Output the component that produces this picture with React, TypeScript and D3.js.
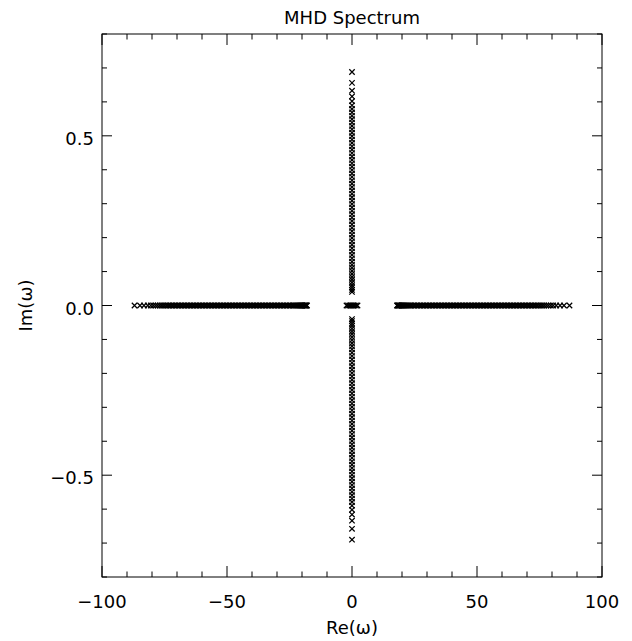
import React from "react";
import * as d3 from "d3";

// ---- Data ----
const title = "MHD Spectrum";
const xLabel = "Re(ω)";
const yLabel = "Im(ω)";

const xMajorTicks = [-100, -50, 0, 50, 100];
const xTickLabels = ["−100", "−50", "0", "50", "100"];
const yMajorTicks = [-0.5, 0.0, 0.5];
const yTickLabels = ["−0.5", "0.0", "0.5"];

// Real branch (positive side), Im = 0
const realPositive = [
  18.0, 18.2, 18.4, 18.6, 18.8, 19.0, 19.3, 19.6, 19.9, 20.2, 20.6, 21.0, 21.4, 21.8,
  22.3, 22.8, 23.3, 23.8, 24.4, 25.0, 25.6, 26.2, 26.8, 27.4, 28.0, 28.6, 29.2, 29.8,
  30.4, 31.0, 31.6, 32.2, 32.8, 33.4, 34.0, 34.6, 35.2, 35.8, 36.4, 37.0, 37.6, 38.2,
  38.8, 39.4, 40.0, 40.6, 41.2, 41.8, 42.4, 43.0, 43.6, 44.2, 44.8, 45.4, 46.0, 46.6,
  47.2, 47.8, 48.4, 49.0, 49.6, 50.2, 50.8, 51.4, 52.0, 52.6, 53.2, 53.8, 54.4, 55.0,
  55.6, 56.2, 56.8, 57.4, 58.0, 58.6, 59.2, 59.8, 60.4, 61.0, 61.6, 62.2, 62.8, 63.4,
  64.0, 64.6, 65.2, 65.8, 66.4, 67.0, 67.6, 68.2, 68.8, 69.4, 70.0, 70.6, 71.2, 71.8,
  72.4, 73.0, 73.6, 74.2, 74.9, 75.6, 76.3, 77.0, 77.8, 78.6, 79.5, 80.5, 81.7, 83.2,
  84.8, 87.0,
];
// Real branch (negative side), Im = 0
const realNegative = [
  -18.0, -18.2, -18.4, -18.6, -18.8, -19.0, -19.3, -19.6, -19.9, -20.2, -20.6, -21.0,
  -21.4, -21.8, -22.3, -22.8, -23.3, -23.8, -24.4, -25.0, -25.6, -26.2, -26.8, -27.4,
  -28.0, -28.6, -29.2, -29.8, -30.4, -31.0, -31.6, -32.2, -32.8, -33.4, -34.0, -34.6,
  -35.2, -35.8, -36.4, -37.0, -37.6, -38.2, -38.8, -39.4, -40.0, -40.6, -41.2, -41.8,
  -42.4, -43.0, -43.6, -44.2, -44.8, -45.4, -46.0, -46.6, -47.2, -47.8, -48.4, -49.0,
  -49.6, -50.2, -50.8, -51.4, -52.0, -52.6, -53.2, -53.8, -54.4, -55.0, -55.6, -56.2,
  -56.8, -57.4, -58.0, -58.6, -59.2, -59.8, -60.4, -61.0, -61.6, -62.2, -62.8, -63.4,
  -64.0, -64.6, -65.2, -65.8, -66.4, -67.0, -67.6, -68.2, -68.8, -69.4, -70.0, -70.6,
  -71.2, -71.8, -72.4, -73.0, -73.6, -74.2, -74.9, -75.6, -76.3, -77.0, -77.8, -78.6,
  -79.5, -80.5, -81.7, -83.2, -84.8, -87.0,
];
// Near-zero cluster on the real axis
const realCenter = [-2.2, -1.6, -1.0, -0.5, 0.0, 0.5, 1.0, 1.6, 2.2];

// Imaginary branch (Re = 0)
const imagPositive = [
  0.688, 0.656, 0.633, 0.616, 0.602, 0.590, 0.579, 0.569, 0.559, 0.549, 0.539, 0.529,
  0.519, 0.509, 0.499, 0.489, 0.479, 0.469, 0.459, 0.449, 0.439, 0.429, 0.419, 0.409,
  0.399, 0.389, 0.379, 0.369, 0.359, 0.349, 0.339, 0.329, 0.319, 0.309, 0.299, 0.289,
  0.279, 0.269, 0.259, 0.249, 0.239, 0.229, 0.219, 0.209, 0.199, 0.189, 0.179, 0.169,
  0.159, 0.149, 0.139, 0.129, 0.120, 0.111, 0.102, 0.093, 0.084, 0.076, 0.068, 0.060,
  0.053, 0.046, 0.040,
];
const imagNegative = [
  -0.690, -0.658, -0.634, -0.616, -0.602, -0.590, -0.579, -0.569, -0.559, -0.549, -0.539,
  -0.529, -0.519, -0.509, -0.499, -0.489, -0.479, -0.469, -0.459, -0.449, -0.439, -0.429,
  -0.419, -0.409, -0.399, -0.389, -0.379, -0.369, -0.359, -0.349, -0.339, -0.329, -0.319,
  -0.309, -0.299, -0.289, -0.279, -0.269, -0.259, -0.249, -0.239, -0.229, -0.219, -0.209,
  -0.199, -0.189, -0.179, -0.169, -0.159, -0.149, -0.139, -0.129, -0.120, -0.111, -0.102,
  -0.093, -0.084, -0.076, -0.068, -0.060, -0.053, -0.046, -0.040,
];

const W = 632;
const H = 641;
const margin = { left: 102, right: 30, top: 34, bottom: 64 };
const FONT = "'DejaVu Sans', 'Liberation Sans', sans-serif";

export default function App() {
  const x = d3.scaleLinear().domain([-100, 100]).range([margin.left, W - margin.right]);
  const y = d3.scaleLinear().domain([-0.8, 0.8]).range([H - margin.bottom, margin.top]);
  const [x0, x1] = x.range();
  const [y0, y1] = y.range(); // y0 bottom, y1 top

  const xMinor = d3.range(-100, 100.001, 10);
  const yMinor = d3.range(-8, 8.001, 1).map((v) => v / 10);

  const points: [number, number][] = [
    ...realPositive.map((v) => [v, 0] as [number, number]),
    ...realNegative.map((v) => [v, 0] as [number, number]),
    ...realCenter.map((v) => [v, 0] as [number, number]),
    ...imagPositive.map((v) => [0, v] as [number, number]),
    ...imagNegative.map((v) => [0, v] as [number, number]),
  ];

  const s = 2.7;
  const xLenMaj = 11, xLenMin = 5.5, yLenMaj = 10, yLenMin = 5;
  const fs = 18;

  return (
    <svg
      width={W}
      height={H}
      style={{ position: "absolute", left: 0, top: 0, background: "#fff" }}
    >
      <rect x={0} y={0} width={W} height={H} fill="#fff" />
      {/* frame */}
      <rect x={x0} y={y1} width={x1 - x0} height={y0 - y1} fill="none" stroke="#000" strokeWidth={1} />
      {/* x ticks bottom & top */}
      {xMinor.map((v) => {
        const maj = xMajorTicks.includes(Math.round(v));
        const len = maj ? xLenMaj : xLenMin;
        return (
          <g key={"xt" + v} stroke="#000" strokeWidth={1}>
            <line x1={x(v)} x2={x(v)} y1={y0} y2={y0 - len} />
            <line x1={x(v)} x2={x(v)} y1={y1} y2={y1 + len} />
          </g>
        );
      })}
      {/* y ticks left & right */}
      {yMinor.map((v) => {
        const maj = yMajorTicks.some((t) => Math.abs(t - v) < 1e-6);
        const len = maj ? yLenMaj : yLenMin;
        return (
          <g key={"yt" + v} stroke="#000" strokeWidth={1}>
            <line x1={x0} x2={x0 + len} y1={y(v)} y2={y(v)} />
            <line x1={x1} x2={x1 - len} y1={y(v)} y2={y(v)} />
          </g>
        );
      })}
      {/* x tick labels */}
      {xMajorTicks.map((v, i) => (
        <text key={"xl" + v} x={x(v)} y={y0 + 31} textAnchor="middle" fontFamily={FONT} fontSize={fs} fill="#000">
          {xTickLabels[i]}
        </text>
      ))}
      {/* y tick labels */}
      {yMajorTicks.map((v, i) => (
        <text key={"yl" + v} x={x0 - 8} y={y(v) + 9} textAnchor="end" fontFamily={FONT} fontSize={fs} fill="#000">
          {yTickLabels[i]}
        </text>
      ))}
      {/* markers */}
      <g stroke="#000" strokeWidth={1.25} fill="none">
        {points.map(([a, b], i) => {
          const px = x(a), py = y(b);
          return (
            <path key={i} d={`M${px - s},${py - s}L${px + s},${py + s}M${px - s},${py + s}L${px + s},${py - s}`} />
          );
        })}
      </g>
      {/* title */}
      <text x={(x0 + x1) / 2} y={24} textAnchor="middle" fontFamily={FONT} fontSize={fs} fill="#000">
        {title}
      </text>
      {/* axis labels */}
      <text x={(x0 + x1) / 2} y={634} textAnchor="middle" fontFamily={FONT} fontSize={fs} fill="#000">
        {xLabel}
      </text>
      <text
        transform={`translate(32, ${(y0 + y1) / 2}) rotate(-90)`}
        textAnchor="middle"
        fontFamily={FONT}
        fontSize={fs}
        fill="#000"
      >
        {yLabel}
      </text>
    </svg>
  );
}
